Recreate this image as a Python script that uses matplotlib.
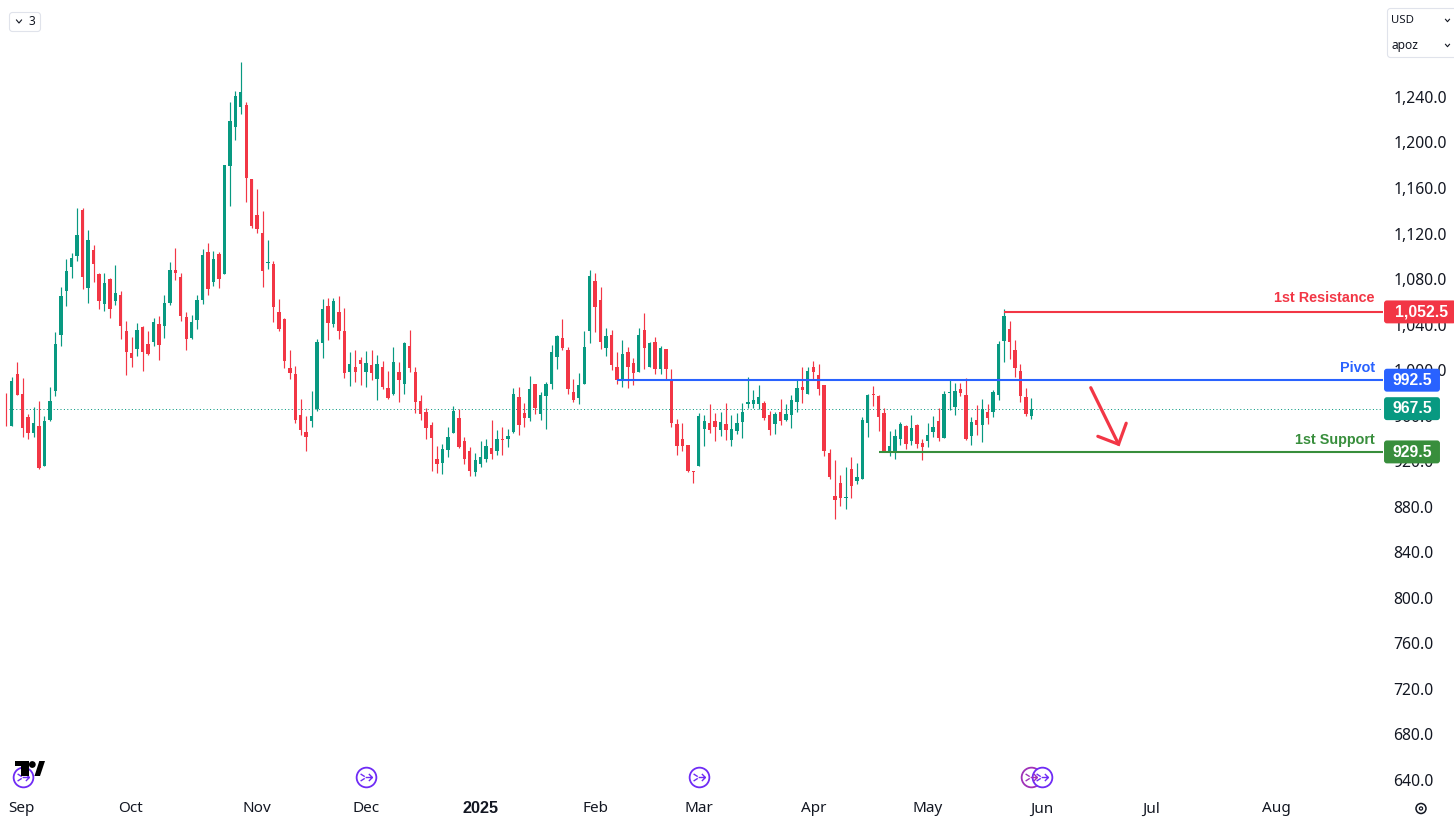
import matplotlib
matplotlib.use("Agg")
import matplotlib.pyplot as plt
from matplotlib.patches import FancyBboxPatch, Polygon, Circle
from matplotlib.path import Path
from matplotlib.lines import Line2D
from matplotlib.transforms import Affine2D

highs = [981.0,995.4,1008.5,994.5,962.9,969.0,974.3,961.1,986.6,1034.9,
1074.4,1099.0,1104.3,1143.8,1143.8,1124.5,1111.3,1086.7,1086.7,1082.3,
1093.7,1070.9,1044.6,1030.5,1042.8,1040.2,1035.8,1047.2,1049.0,1067.4,
1096.4,1108.7,1086.7,1052.5,1049.8,1067.4,1107.8,1113.1,1106.0,1105.2,
1181.6,1236.9,1246.6,1272.0,1236.9,1169.3,1160.5,1141.2,1115.7,1097.3,
1063.9,1046.9,1019.0,1005.0,976.0,961.0,983.0,1028.7,1063.8,1064.7,
1064.7,1066.5,1055.9,1017.3,1019.0,1012.9,1018.2,1019.0,1014.6,1009.4,
1000.6,1021.7,1008.5,1026.1,1036.6,1004.1,979.5,968.1,955.8,934.7,
936.5,951.4,969.9,967.2,942.6,933.8,928.6,939.1,940.9,957.5,
948.8,951.4,949.6,985.7,986.5,972.5,996.2,989.2,982.1,990.9,
1023.4,1032.2,1046.3,1021.7,993.6,998.8,1035.7,1089.3,1086.7,1074.4,
1038.4,1036.6,1017.3,1027.8,1021.7,1012.0,1038.4,1051.5,1026.1,1030.5,
1022.6,1019.9,1002.4,958.4,954.9,935.6,912.8,963.7,962.0,971.6,
963.7,964.6,972.5,962.0,963.7,972.5,995.3,983.9,988.3,974.2,
965.5,964.6,976.0,971.6,979.5,992.7,1004.1,1004.0,1009.4,1006.8,
988.3,932.1,922.5,909.3,916.3,925.1,919.8,960.2,980.4,987.5,
979.6,968.1,947.9,949.7,955.8,953.2,962.0,954.1,940.9,955.0,
961.1,968.1,983.1,992.7,990.1,990.1,994.5,960.2,970.8,976.0,
971.6,983.9,1027.0,1055.1,1044.6,1027.9,1006.8,985.7,976.9]

lows = [952.3,952.3,979.5,942.7,940.9,942.7,914.6,917.2,956.7,978.7,
1022.6,1057.7,1082.3,1097.3,1072.7,1060.4,1078.8,1055.1,1053.3,1047.2,
1058.6,1028.7,997.1,1004.1,1013.8,1000.6,1014.7,1022.6,1010.3,1029.6,
1058.6,1080.6,1044.6,1019.1,1028.7,1037.5,1059.5,1067.4,1075.3,1073.5,
1085.8,1145.6,1203.5,1226.4,1149.1,1126.2,1121.9,1074.4,1090.2,1043.7,
1035.8,1003.2,993.6,954.9,944.4,930.3,951.4,965.5,1012.0,1027.8,
1039.2,1028.7,994.4,987.4,990.9,988.3,986.5,992.7,975.1,984.8,
976.0,979.5,973.4,980.4,999.7,963.7,957.6,940.9,912.8,911.0,
910.1,925.1,946.1,933.0,918.9,908.4,908.4,916.3,920.7,923.3,
926.8,926.8,933.8,946.1,944.4,951.4,956.7,962.8,957.6,949.6,
984.8,1002.4,1019.0,980.4,973.4,971.6,989.2,1025.2,1034.9,1019.9,
1013.8,1001.5,989.2,986.5,985.7,988.3,999.7,1002.4,1004.1,998.0,
998.0,993.6,951.4,926.8,930.3,911.9,902.2,917.1,934.7,946.1,
939.1,943.5,940.0,934.7,945.3,941.7,968.1,968.1,967.2,957.6,
944.4,945.3,953.2,956.7,950.5,964.6,972.5,980.4,992.7,979.5,
926.0,905.8,870.6,882.0,879.4,889.1,901.4,905.8,942.7,969.9,
947.9,929.5,926.0,923.3,935.6,932.1,935.6,933.0,922.5,933.9,
942.7,939.1,941.8,966.4,962.0,978.7,940.0,935.6,944.4,938.3,
954.1,960.2,975.2,1008.5,1011.2,995.4,973.4,961.1,958.5]

opens = [967.5,952.3,998.0,980.4,960.2,946.2,952.3,917.2,957.6,983.1,
1032.2,1070.9,1092.0,1101.6,1142.1,1073.5,1106.9,1085.8,1059.5,1081.4,
1062.1,1067.4,1035.8,1016.4,1019.9,1039.3,1024.3,1026.1,1041.9,1040.2,
1060.4,1089.4,1083.2,1048.1,1029.6,1045.4,1063.0,1105.2,1078.8,1103.4,
1085.8,1180.7,1215.0,1232.5,1234.3,1169.3,1137.7,1121.9,1095.5,1094.6,
1052.5,1046.3,1003.2,998.0,962.0,947.0,956.7,967.2,1025.2,1057.7,
1041.9,1052.4,1035.7,999.7,1004.1,1010.3,999.7,1005.9,993.6,1004.1,
985.7,980.4,999.7,989.2,1022.6,999.7,974.2,964.6,953.2,923.3,
919.8,931.2,946.1,959.3,939.1,930.3,911.9,918.9,923.3,933.0,
930.3,940.9,940.9,947.0,977.8,963.7,959.3,989.2,962.8,978.6,
989.2,1012.9,1029.6,1019.0,982.1,976.9,989.2,1035.7,1079.7,1063.0,
1020.8,1032.2,1004.1,992.7,1017.3,1007.6,999.7,1036.6,1004.1,1026.1,
1002.4,1019.9,993.6,954.0,940.9,935.6,912.8,917.1,949.6,954.9,
956.7,948.8,954.0,940.0,947.9,955.8,971.6,971.6,971.6,972.5,
962.0,954.0,964.6,957.6,962.0,973.4,986.5,980.4,1004.1,997.1,
988.3,928.6,890.8,902.3,889.1,914.6,904.0,905.8,955.0,980.4,
978.7,963.7,930.4,930.4,940.9,952.3,939.1,953.2,937.4,939.1,
947.0,956.7,941.8,981.3,969.0,984.8,979.6,943.5,957.6,953.2,
964.6,964.6,979.6,1027.0,1037.5,1019.1,1000.6,977.8,961.1]

closes = [967.0,991.8,979.5,950.6,946.2,955.0,915.4,956.7,974.3,1024.3,
1066.5,1088.5,1099.9,1120.1,1083.2,1115.7,1094.6,1062.1,1077.9,1055.1,
1069.1,1040.2,1017.3,1012.0,1036.6,1017.3,1015.6,1043.7,1023.5,1060.4,
1089.4,1086.7,1049.0,1028.7,1043.7,1063.0,1102.5,1072.7,1099.0,1081.4,
1181.6,1220.2,1242.2,1245.7,1170.2,1128.0,1125.4,1088.5,1096.4,1056.8,
1037.5,1009.4,998.8,957.6,948.8,942.6,961.0,1026.1,1055.0,1042.8,
1062.1,1035.7,998.8,1006.8,999.7,1006.8,1007.6,998.8,1006.8,986.5,
976.9,1008.5,992.7,1025.2,1003.2,973.4,962.8,950.5,941.7,918.9,
932.0,942.6,965.5,933.8,923.3,912.8,922.4,925.1,934.7,927.7,
940.9,940.0,943.5,980.4,953.2,959.3,984.8,968.1,979.5,989.2,
1017.3,1031.3,1020.8,984.8,975.1,988.3,1021.7,1084.0,1056.8,1026.1,
1031.3,1005.9,992.7,1015.5,1004.1,998.8,1032.2,1020.8,1025.2,1002.4,
1020.8,1002.4,954.9,934.7,934.7,912.8,911.9,961.1,956.7,948.8,
951.4,955.8,948.8,949.6,954.9,964.6,973.4,975.1,977.8,959.3,
948.8,962.8,956.7,962.8,975.1,985.7,983.9,1000.6,999.7,984.8,
930.4,907.5,887.3,889.1,890.0,899.6,907.5,957.6,979.6,979.6,
960.2,930.4,934.8,943.5,954.1,936.5,950.6,936.5,933.9,944.4,
951.4,941.8,980.4,982.2,983.1,981.3,940.9,955.8,953.2,967.3,
959.3,982.2,1024.4,1048.9,1026.1,1003.3,978.7,962.9,967.5]

price_ticks = [640,680,720,760,800,840,880,920,960,1000,1040,1080,1120,1160,1200,1240]
month_labels = ["Sep","Oct","Nov","Dec","2025","Feb","Mar","Apr","May","Jun","Jul","Aug"]
month_index = [2.7,22.8,46,66,87,108,127,148,169,190,210,233]
resistance, pivot, support, last_price = 1052.5, 992.5, 929.5, 967.5
level_start = [183, 112, 160]
event_index = [3, 66, 127, 188, 190]
arrow_x = [198.9, 204.0]
arrow_y = [985.9, 936.2]
barb_x = [200.2, 204.0, 205.4]
barb_y = [943.2, 936.2, 954.7]

GREEN, RED, BLUE, SUP = "#089981", "#f23645", "#2962ff", "#388e3c"
INK = "#131722"
FONT = "Noto Sans"
BOLD = "Liberation Sans"
W, H, DPI = 1454, 830, 100
PX = Affine2D().scale(1, -1).translate(0, H)

fig = plt.figure(figsize=(W/DPI, H/DPI), dpi=DPI, facecolor="white")
ax = fig.add_axes([0, 35/H, 1383/W, 795/H])
ax.set_xlim(-1.156, 252.5)
ax.set_ylim(628.1, 1326.5)
for s in ax.spines.values():
    s.set_visible(False)

n = range(len(opens))
cols = [GREEN if c >= o else RED for o, c in zip(opens, closes)]
ax.hlines(last_price, 0.5, 252.5, color=GREEN, lw=0.72, linestyle=(0, (1, 2.4)), zorder=1)
wicks = ax.vlines(n, lows, highs, colors=cols, lw=0.85, zorder=2)
wicks.set_snap(True)
ax.bar(n, [abs(c-o) for o, c in zip(opens, closes)], bottom=[min(o, c) for o, c in zip(opens, closes)],
       width=0.62, color=cols, linewidth=0, zorder=3)

for price, start, col in zip([resistance, pivot, support], level_start, [RED, BLUE, SUP]):
    lvl = ax.hlines(price, start, 252.5, color=col, lw=1.5, zorder=4)
    lvl.set_snap(True)
ax.plot(arrow_x, arrow_y, color=RED, lw=2.3, solid_capstyle="round", zorder=4)
ax.plot(barb_x, barb_y, color=RED, lw=2.3, solid_capstyle="round", solid_joinstyle="miter", zorder=4)

ax.yaxis.tick_right()
ax.set_yticks(price_ticks)
ax.set_yticklabels([f"{v:,.1f}" for v in price_ticks], fontsize=11.3, color=INK, family=FONT)
ax.tick_params(axis="y", length=0, pad=7.5)
for t in ax.get_yticklabels():
    t.set_transform(t.get_transform() + Affine2D().translate(0, 1.5))
ax.set_xticks(month_index)
ax.set_xticklabels(month_labels, fontsize=11.0, color=INK, family=FONT)
ax.tick_params(axis="x", length=0, pad=4.6)
year_label = ax.get_xticklabels()[4]
year_label.set_fontfamily(BOLD)
year_label.set_fontweight("bold")
year_label.set_fontsize(11.7)

# event markers
arrow_marker = Path([(-0.15,0),(1,0),(0.4,0.6),(1,0),(0.4,-0.6),(-1,0.6),(-0.3,0.15),(-1,-0.6),(-0.3,-0.15)],
                    [1,2,1,2,2,1,2,1,2])
btr = ax.get_xaxis_transform()
ev_y = (795-777)/795
for i in event_index:
    col = "#a032b8" if i == 188 else "#6f2cf5"
    ax.plot([i], [ev_y], marker="o", ms=14.2, mfc="white", mec=col, mew=1.3, transform=btr, clip_on=False, zorder=6)
    ax.plot([i], [ev_y], marker=arrow_marker, ms=8.5, mfc="none", mec=col, mew=1.0, transform=btr, clip_on=False, zorder=7)

# price tags
def tag(price, x0, x1, col, text):
    yc = H - ax.transData.transform((0, price))[1]
    fig.add_artist(FancyBboxPatch((x0+1, yc-10.5), x1-x0-2, 21, boxstyle="round,pad=0,rounding_size=2",
                                  mutation_aspect=1, fc=col, ec=col, lw=1.4, transform=PX, zorder=8))
    fig.text((x0+x1)/2/W + (2/W if x1 > 1450 else 0), 1-(yc+0.2)/H, text, color="white", fontsize=11.3, ha="center", va="center",
             family=BOLD, fontweight="bold", zorder=9)
tag(resistance, 1384, 1456, RED, "1,052.5")
tag(pivot, 1384, 1440, BLUE, "992.5")
tag(last_price, 1384, 1440, GREEN, "967.5")
tag(support, 1384, 1440, SUP, "929.5")

for txt, y, col in [("1st Resistance", 298.5, RED), ("Pivot", 367.5, BLUE), ("1st Support", 439.5, SUP)]:
    fig.text(1375/W, 1-y/H, txt, color=col, fontsize=10.4, ha="right", va="center", family=BOLD, fontweight="bold", zorder=9)

# logo
for pts in ([(15,761),(29,761),(29,776),(20.7,776),(20.7,766),(15,766)],
            [(39.3,761),(45,761),(40,776),(34.5,776)]):
    fig.add_artist(Polygon(pts, closed=True, fc="black", ec="none", transform=PX, zorder=8))
fig.add_artist(Circle((32.3,764.5), 3.4, fc="black", ec="none", transform=PX, zorder=8))

# controls
def box(x, y, w, h):
    fig.add_artist(FancyBboxPatch((x, y), w, h, boxstyle="round,pad=0,rounding_size=3", fc="white",
                                  ec="#e0e3eb", lw=0.8, transform=PX, zorder=5))
def chevron(x, y, s=2.5):
    fig.add_artist(Line2D([x-s, x, x+s], [y-s*0.6, y+s*0.6, y-s*0.6], color=INK, lw=0.8, transform=PX, zorder=9))
box(9.5, 12.5, 31, 19)
chevron(19, 21.5)
fig.text(32/W, 1-21.5/H, "3", fontsize=8.6, color=INK, ha="center", va="center", family=FONT, zorder=9)
box(1387.5, 8.5, 75, 49)
fig.text(1391/W, 1-20.5/H, "USD", fontsize=8.2, color=INK, ha="left", va="center", family=FONT, zorder=9)
fig.text(1391/W, 1-45.5/H, "apoz", fontsize=8.6, color=INK, ha="left", va="center", family=FONT, zorder=9)
chevron(1447.5, 20.5, 2)
chevron(1447.5, 45.5, 2)

# settings gear
fig.add_artist(Circle((1421, 808.5), 5, fc="none", ec=INK, lw=1.1, transform=PX, zorder=9))
fig.add_artist(Circle((1421, 808.5), 1.6, fc="none", ec=INK, lw=0.9, transform=PX, zorder=9))

fig.savefig("out.png", dpi=DPI, facecolor="white")
